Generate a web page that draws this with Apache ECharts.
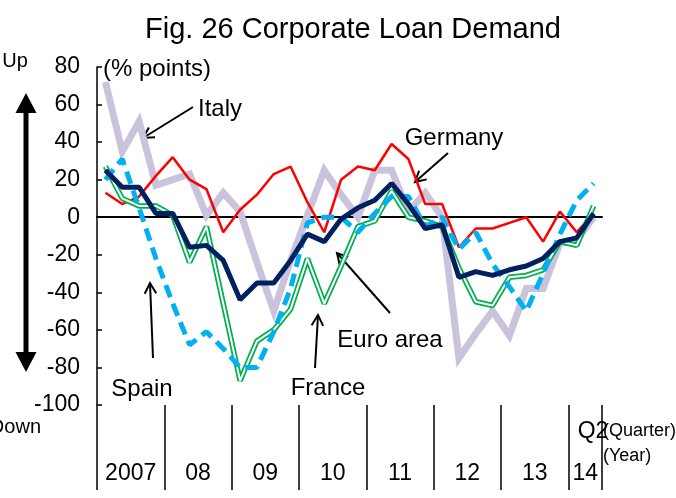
<!DOCTYPE html>
<html>
<head>
<meta charset="utf-8">
<script src="https://cdn.jsdelivr.net/npm/echarts@6/dist/echarts.min.js"></script>
<style>
html, body { margin: 0; padding: 0; background: #fff; }
#chart { width: 676px; height: 498px; }
</style>
</head>
<body>
<div id="chart"></div>
<script>
// quarters 2007Q1 .. 2014Q2
const quarters = [
  '07Q1', '07Q2', '07Q3', '07Q4', '08Q1', '08Q2', '08Q3', '08Q4',
  '09Q1', '09Q2', '09Q3', '09Q4', '10Q1', '10Q2', '10Q3', '10Q4',
  '11Q1', '11Q2', '11Q3', '11Q4', '12Q1', '12Q2', '12Q3', '12Q4',
  '13Q1', '13Q2', '13Q3', '13Q4', '14Q1', '14Q2'
]
const germany = [13, 7, 11, 22, 32, 20, 15, -8, 4, 12, 23, 27, 8, -8, 20, 27, 25, 39, 31, 7, 7, -16, -6, -6, -3, 0, -13, 3, -8, 2]
const italy = [72, 35, 51, 17, 20, 23, 1, 13, 3, -24, -50, -23, 1, 25, 12, 0, 25, 25, 3, 13, 0, -75, -62, -50, -63, -38, -38, -14, -12, 0]
const spain = [20, 31, 5, -22, -46, -68, -61, -70, -80, -80, -61, -38, -3, 0, 0, -8, 2, 11, 11, -5, 0, -17, -8, -25, -37, -50, -30, -9, 9, 18]
const france = [27, 10, 6, 6, 1, -24, -5, -46, -87, -66, -60, -49, -22, -46, -26, -5, -2, 14, 0, -2, -5, -27, -45, -47, -32, -31, -28, -13, -15, 6]
const euroArea = [25, 16, 16, 2, 2, -16, -15, -23, -44, -35, -35, -23, -9, -13, -1, 5, 9, 18, 7, -6, -4, -32, -29, -31, -28, -26, -22, -13, -11, 2]

// year separators / year label positions, counted in quarters from 2007Q1
const yearBounds = [0, 4, 8, 12, 16, 20, 24, 28, 30]
const yearCenters = [2, 6, 10, 14, 18, 22, 26, 29]
const yearLabels = ['2007', '08', '09', '10', '11', '12', '13', '14']

const FONT = 'Liberation Sans, Arial, sans-serif'

function arrow(x1, y1, x2, y2) {
  const a = Math.atan2(y2 - y1, x2 - x1)
  const L = 12, s = 0.5
  return [
    { type: 'line', shape: { x1, y1, x2, y2 }, style: { stroke: '#000', lineWidth: 2 } },
    {
      type: 'polyline',
      shape: { points: [
        [x2 - L * Math.cos(a - s), y2 - L * Math.sin(a - s)],
        [x2, y2],
        [x2 - L * Math.cos(a + s), y2 - L * Math.sin(a + s)]
      ] },
      style: { stroke: '#000', lineWidth: 2, fill: null }
    }
  ]
}

function label(text, x, y, size, align) {
  return {
    type: 'text', x, y,
    style: { text, fill: '#000', font: size + 'px ' + FONT, align: align || 'center', verticalAlign: 'middle' }
  }
}

const chart = echarts.init(document.getElementById('chart'))

const lineSeries = (name, data, style, z) => ({
  name, type: 'line', data, symbol: 'none', z,
  lineStyle: style, silent: true
})

chart.setOption({
  animation: false,
  backgroundColor: '#fff',
  textStyle: { fontFamily: FONT },
  grid: { left: 97, right: 74, top: 67, bottom: 93 },
  xAxis: [
    {
      type: 'category',
      data: quarters,
      boundaryGap: true,
      axisLine: { onZero: true, lineStyle: { color: '#000', width: 2 } },
      axisTick: { show: false },
      axisLabel: { show: false }
    },
    {
      type: 'value',
      min: 0, max: 30,
      position: 'bottom',
      axisLine: { show: false, onZero: false },
      splitLine: { show: false },
      axisTick: { show: true, customValues: yearBounds, length: 85, lineStyle: { color: '#000', width: 1.5 } },
      axisLabel: {
        customValues: yearCenters,
        margin: 57,
        fontSize: 23,
        color: '#000',
        fontFamily: FONT,
        formatter: v => yearLabels[yearCenters.indexOf(v)]
      }
    }
  ],
  yAxis: {
    type: 'value',
    min: -100, max: 80, interval: 20,
    axisLine: { show: true, lineStyle: { color: '#000', width: 1.5 } },
    axisTick: { show: true, inside: true, length: 5, lineStyle: { color: '#000', width: 1.5 } },
    axisLabel: { fontSize: 23, color: '#000', margin: 17, fontFamily: FONT },
    splitLine: { show: false }
  },
  series: [
    lineSeries('Italy', italy, { color: '#CBC2DC', width: 7, join: 'miter' }, 1),
    lineSeries('Germany', germany, { color: '#FF0000', width: 2.5 }, 2),
    lineSeries('France', france, { color: '#00B050', width: 5.5 }, 3),
    lineSeries('France inner', france, { color: '#FFFFFF', width: 2 }, 4),
    lineSeries('Spain', spain, { color: '#00B0F0', width: 5, type: [13, 7] }, 5),
    lineSeries('Euro area', euroArea, { color: '#002060', width: 5 }, 6)
  ],
  graphic: [
    label('Fig. 26 Corporate Loan Demand', 353, 30, 29),
    label('(% points)', 103, 69, 24, 'left'),
    label('Up', 15, 61, 20),
    label('Down', 41, 427, 20, 'right'),
    // big up/down arrow
    { type: 'rect', shape: { x: 23.5, y: 110, width: 5, height: 245 }, style: { fill: '#000' } },
    { type: 'polygon', shape: { points: [[26, 93], [36.5, 113], [15.5, 113]] }, style: { fill: '#000' } },
    { type: 'polygon', shape: { points: [[26, 372], [36.5, 352], [15.5, 352]] }, style: { fill: '#000' } },
    label('Italy', 220, 109, 24),
    ...arrow(193, 107, 143, 138),
    label('Germany', 454, 138, 24),
    ...arrow(448, 153, 415, 182),
    label('Euro area', 390, 340, 24),
    ...arrow(390, 313, 337, 253),
    label('France', 328, 388, 24),
    ...arrow(315, 368, 318, 315),
    label('Spain', 142, 389, 24),
    ...arrow(153, 358, 150, 283),
    label('Q2', 593, 432, 23),
    label('(Quarter)', 603, 431, 18, 'left'),
    label('(Year)', 603, 456, 18, 'left')
  ]
})
</script>
</body>
</html>
